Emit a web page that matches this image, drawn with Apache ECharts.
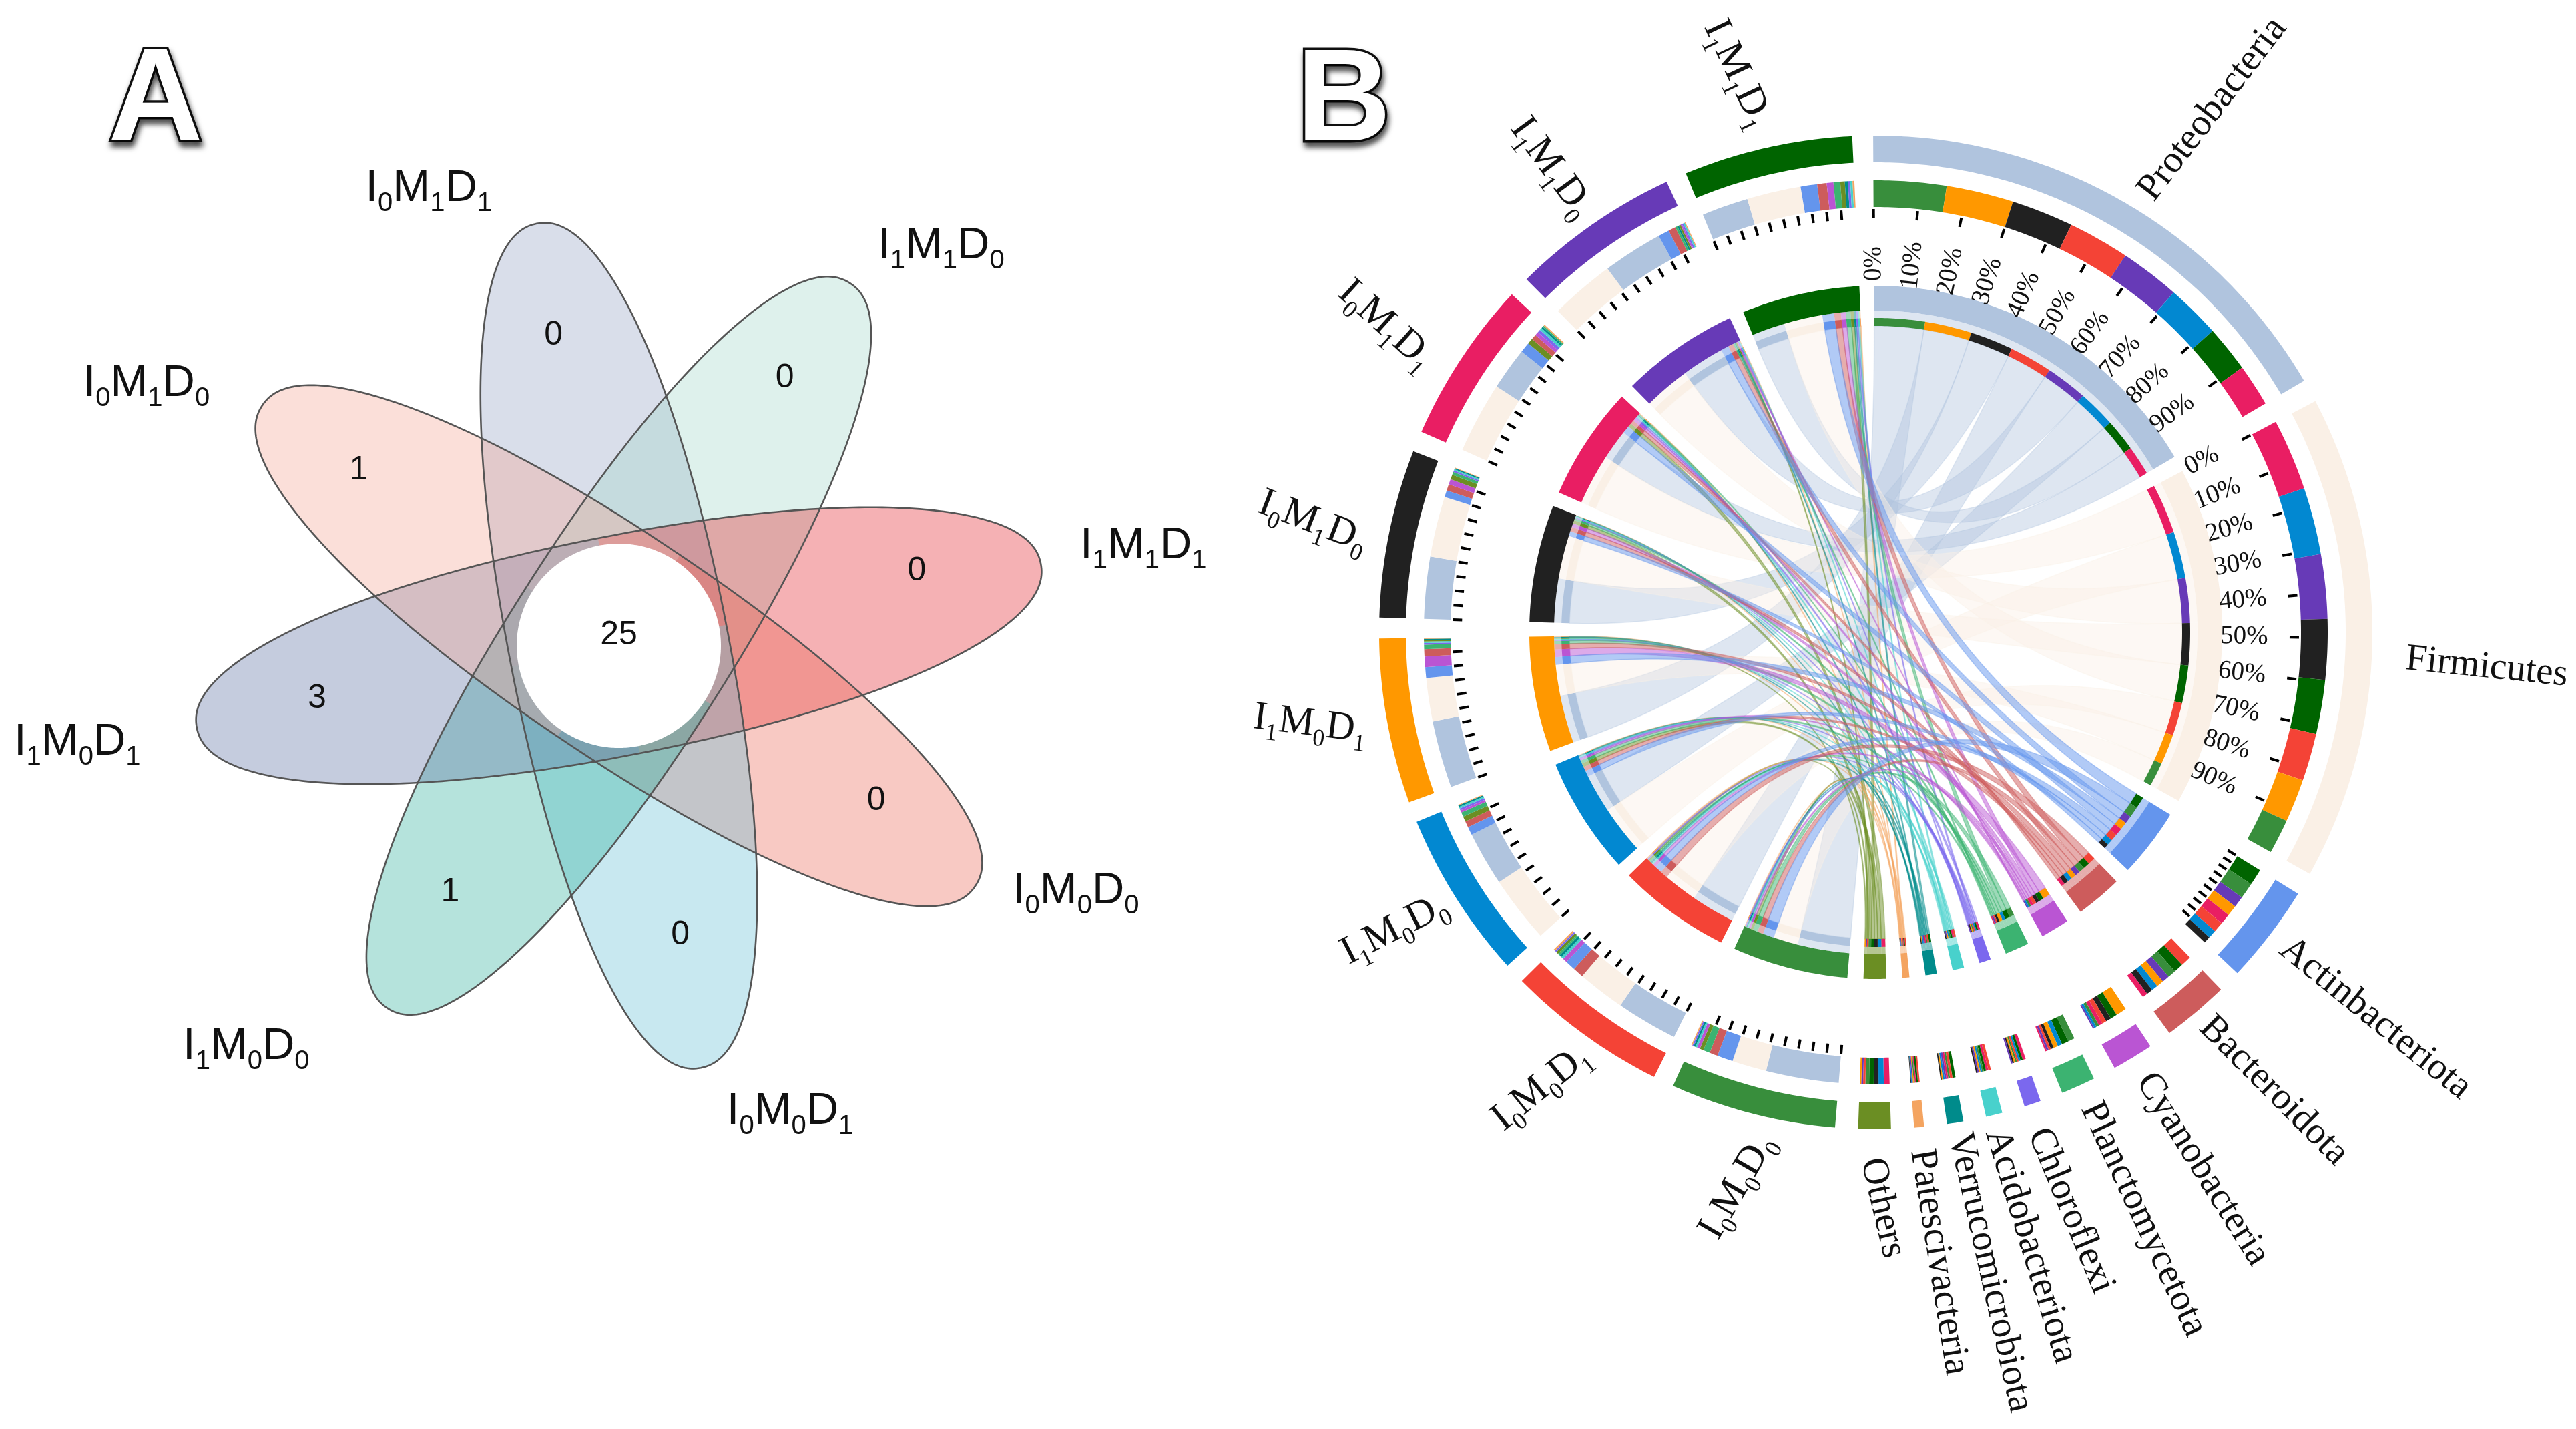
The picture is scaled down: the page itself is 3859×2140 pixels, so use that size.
<!DOCTYPE html>
<html><head><meta charset="utf-8">
<style>html,body{margin:0;padding:0;background:#fff}#c{width:3859px;height:2140px}</style>
<script src="https://cdn.jsdelivr.net/npm/echarts@6/dist/echarts.min.js"></script>
</head><body><div id="c"></div>
<script>
// ---------- Panel A data ----------
const vennNames  = ['I0M1D1','I1M1D0','I1M1D1','I0M0D0','I0M0D1','I1M0D0','I1M0D1','I0M1D0'];
const vennValues = [0,0,0,0,0,1,3,1];
const vennCore   = 25;
const vennLook   = ['#d9deea','#def1ec','#f5b1b4','#f8c9c3','#c8e8f0','#b5e3dc','#c5ccde','#fbdfd9'];
const vennDir    = [349,32.5,79,124,169,212.5,259,304];
const vennValueAngle  = [348.1,31.8,76,121,168,214.4,260,304];
const vennValueRadius = [475,472,460,450,443,447,459,470];
const vennLabelAngle  = [337.4,38.9,79.2,118.2,159.8,222.9,259.9,299];
const vennLabelRadius = [741,769,800,777,743,820,824,809];

// ---------- Panel B data ----------
const phyla = ['Proteobacteria','Firmicutes','Actinbacteriota','Bacteroidota','Cyanobacteria','Planctomycetota','Chloroflexi','Acidobacteriota','Verrucomicrobiota','Patescivacteria','Others'];
const phylaColors = ['#B0C4DE','#FAF0E6','#6495ED','#CD5C5C','#BA55D3','#3CB371','#7B68EE','#48D1CC','#008B8B','#F4A460','#6B8E23'];
const samples = ['I0M0D0','I0M0D1','I1M0D0','I1M0D1','I0M1D0','I0M1D1','I1M1D0','I1M1D1'];
const sampleColors = ['#388E3C','#F44336','#0288D1','#FF9800','#212121','#E91E63','#673AB7','#006400'];
const sI0M0D0 = [48.5,23,10.5,5.5,2,4.5,1,1.2,1.2,0.7,2.5];
const sI0M0D1 = [41,31.7,6.8,7.1,3,1.5,1.2,1.7,1.6,1.2,1.5];
const sI1M0D0 = [36,44.6,5.5,4.2,1.5,3,1.3,1.1,1.1,0.5,3.5];
const sI1M0D1 = [44.8,28.8,7.2,4.8,7.1,3,1,1,0.8,0.6,1];
const sI0M1D0 = [41.3,40.3,4.5,4.2,3.5,2,1,0.9,0.8,0.4,3.2];
const sI0M1D1 = [28.2,47.5,7,3.4,2.5,1,2,1.6,1.2,0.8,3.8];
const sI1M1D0 = [40,43,7.4,4.9,1,1.4,1,1,1.2,0.6,1.2];
const sI1M1D1 = [31,36,11,6.3,4.5,4.5,1.6,1.5,2,1.2,3];
const matrix = [sI0M0D0,sI0M0D1,sI1M0D0,sI1M0D1,sI0M1D0,sI0M1D1,sI1M1D0,sI1M1D1];
const tickLabels = ['0%','10%','20%','30%','40%','50%','60%','70%','80%','90%'];
const proteoLeads = ['I1M1D1'];

// ---------- label placement ----------
const phylaLabelAngle  = [31.8,92.9,127.4,139.8,148.8,155.6,162,166.5,170.6,175,180.5];
const phylaLabelRadius = [768,795,770,764,777,776,783,766,760,777,788];
const phylaLabelDir    = [37.4,95.8,129,135,148,155,157.6,163,167.4,171,167];
const sampleLabelAngle  = [192.3,214.7,237.8,259,280,301,325.2,347.3];
const sampleLabelRadius = [774,764,762,777,775,782,763,778];
const sampleLabelTilt   = [60,39,27,-7,-21,-42,-54,-65];

// ---------- layout constants ----------
const START=-0.3, GAP_PHYLA=2.67, GAP_SAMPLE=2.42;
const R={outer:[704,744],comp:[637,677],tick:[620,634],tickText:552,inner:[482,519],stripe:[459,471],pale:[459,482],link:459};

// sectors
const sum=a=>a.reduce((x,y)=>x+y,0);
const nodes=[];
phyla.forEach((n,j)=>nodes.push({name:n,color:phylaColors[j],kind:'p',idx:j,vals:matrix.map(r=>r[j]),others:sampleColors}));
samples.forEach((n,i)=>nodes.push({name:n,color:sampleColors[i],kind:'s',idx:i,vals:matrix[i],others:phylaColors}));
const total=sum(nodes.map(n=>sum(n.vals)));
const k=(360-phyla.length*GAP_PHYLA-samples.length*GAP_SAMPLE)/total;
let cur=START;
const links={};
nodes.forEach(n=>{
  n.a0=cur; n.span=sum(n.vals)*k; n.a1=cur+n.span; cur=n.a1+(n.kind==='p'?GAP_PHYLA:GAP_SAMPLE);
  n.parts=[];
  const order=n.vals.map((v,i)=>i).sort((x,y)=>n.vals[y]-n.vals[x]);
  if(n.kind==='s'&&proteoLeads.includes(n.name)){order.splice(order.indexOf(0),1);order.unshift(0);}
  let a=n.a0;
  order.forEach(i=>{
    const b=a+n.vals[i]*k;
    n.parts.push({i,a0:a,a1:b,color:n.others[i]});
    const key=n.kind==='p'?(i+'_'+n.idx):(n.idx+'_'+i);
    links[key]=links[key]||{};
    links[key][n.kind]={a0:a,a1:b};
    a=b;
  });
});

// marks
const bands=[], paleBands=[], ticks=[], tickTexts=[], labels=[];
nodes.forEach(n=>{
  bands.push({a0:n.a0,a1:n.a1,r:R.outer,c:n.color});
  bands.push({a0:n.a0,a1:n.a1,r:R.inner,c:n.color});
  n.parts.forEach(p=>{
    bands.push({a0:p.a0,a1:p.a1,r:R.comp,c:p.color});
    bands.push({a0:p.a0,a1:p.a1,r:R.stripe,c:p.color});
  });
  if(n.kind==='s'||n.idx<3){
    tickLabels.forEach((t,q)=>{
      const a=n.a0+n.span*q/10;
      ticks.push({a});
      if(n.kind==='p'&&n.idx<2) tickTexts.push({a,t});
    });
  }
  if(n.kind==='p') labels.push({a:phylaLabelAngle[n.idx],r:phylaLabelRadius[n.idx],rot:90-phylaLabelDir[n.idx],t:n.name,sub:false});
  else labels.push({a:sampleLabelAngle[n.idx],r:sampleLabelRadius[n.idx],rot:sampleLabelTilt[n.idx],t:n.name,sub:true});
});
const ribbonAlpha=j=>j===0?0.42:(j===1?0.45:0.5);
const ribbons=[];
const colOrder=[0,1,10,9,8,7,6,5,4,3,2];
colOrder.forEach(j=>samples.forEach((s,i)=>{
  const l=links[i+'_'+j];
  ribbons.push({a:l.s,b:l.p,c:phylaColors[j],o:ribbonAlpha(j)});
  paleBands.push({a0:l.s.a0,a1:l.s.a1,c:phylaColors[j],o:ribbonAlpha(j)});
  paleBands.push({a0:l.p.a0,a1:l.p.a1,c:phylaColors[j],o:ribbonAlpha(j)});
}));

// helpers
function hexA(hex,o){const n=parseInt(hex.slice(1),16);return `rgba(${n>>16},${(n>>8)&255},${n&255},${o})`;}
function arc(api,r,a0,a1){
  const steps=Math.max(2,Math.ceil(Math.abs(a1-a0)/0.5)),pts=[];
  for(let i=0;i<=steps;i++){const p=api.coord([r,a0+(a1-a0)*i/steps]);pts.push([p[0],p[1]]);}
  return pts;
}
function quad(p0,c,p1,n){
  const out=[];
  for(let i=1;i<n;i++){const t=i/n,u=1-t;out.push([u*u*p0[0]+2*u*t*c[0]+t*t*p1[0],u*u*p0[1]+2*u*t*c[1]+t*t*p1[1]]);}
  return out;
}
function ribbonPts(api,d){
  const c=api.coord([0,0]);
  const A=arc(api,R.link,d.a.a0,d.a.a1),B=arc(api,R.link,d.b.a0,d.b.a1);
  return [...A,...quad(A[A.length-1],c,B[0],48),...B,...quad(B[B.length-1],c,A[0],48)];
}
const idx=a=>a.map((_,i)=>[i]);
const base={type:'custom',coordinateSystem:'polar',silent:true,animation:false,clip:false};
const serifRich=(m,s,drop)=>({
  m:{font:`${m}px "Liberation Serif"`,fill:'#111',lineHeight:m+drop,height:m+drop,verticalAlign:'top'},
  s:{font:`${s}px "Liberation Serif"`,fill:'#111',lineHeight:s,verticalAlign:'bottom'}
});
const sansRich=(m,s,drop)=>({
  m:{font:`${m}px "Liberation Sans"`,fill:'#111',lineHeight:m+drop,height:m+drop,verticalAlign:'top'},
  s:{font:`${s}px "Liberation Sans"`,fill:'#111',lineHeight:s,verticalAlign:'bottom'}
});
const richName=t=>t.match(/[A-Z]\d/g).map(x=>`{m|${x[0]}}{s|${x[1]}}`).join('');

// Panel A rendering
const A_MAJOR=644,A_MINOR=164,A_POWER=2/2.15,CORE=153,A_ALPHA=0.35;
function petalFill(hex){
  const n=parseInt(hex.slice(1),16),f=v=>Math.max(0,Math.min(255,Math.round((v-255*(1-A_ALPHA))/A_ALPHA)));
  return `rgba(${f(n>>16)},${f((n>>8)&255)},${f(n&255)},${A_ALPHA})`;
}
function ellipsePts(api,dir,t0,t1,n){
  const pts=[],sp=v=>Math.sign(v)*Math.pow(Math.abs(v),A_POWER);
  for(let i=0;i<=n;i++){
    const t=(t0+(t1-t0)*i/n)*Math.PI/180,u=A_MAJOR*sp(Math.cos(t)),v=A_MINOR*sp(Math.sin(t));
    const r=Math.hypot(u,v),a=dir+Math.atan2(v,u)*180/Math.PI;
    const p=api.coord([r,a]);pts.push([p[0],p[1]]);
  }
  return pts;
}

const series=[
 {...base,polarIndex:1,z:2,data:idx(vennLook),renderItem(p,api){
   const i=p.dataIndex;
   return {type:'polygon',shape:{points:ellipsePts(api,vennDir[i],-90,90,180)},style:{fill:petalFill(vennLook[i])}};
 }},
 {...base,polarIndex:1,z:3,data:idx([0,1,2,3]),renderItem(p,api){
   const pts=ellipsePts(api,vennDir[p.dataIndex],0,360,360);
   return {type:'polygon',shape:{points:pts},style:{fill:'none',stroke:'#555',lineWidth:2.6}};
 }},
 {...base,polarIndex:1,z:4,data:[[vennCore]],renderItem(p,api){
   const pts=[];for(let a=0;a<360;a+=1){const q=api.coord([CORE,a]);pts.push([q[0],q[1]]);}
   const c=api.coord([16,0]);
   return {type:'group',children:[
     {type:'polygon',shape:{points:pts},style:{fill:'#fff'}},
     {type:'text',x:c[0],y:c[1],style:{text:String(vennCore),font:'50px "Liberation Sans"',fill:'#111',align:'center',verticalAlign:'middle'}}
   ]};
 }},
 {...base,polarIndex:1,z:5,data:vennValues.map(v=>[v]),renderItem(p,api){
   const i=p.dataIndex,c=api.coord([vennValueRadius[i],vennValueAngle[i]]);
   return {type:'text',x:c[0],y:c[1],style:{text:String(vennValues[i]),font:'50px "Liberation Sans"',fill:'#111',align:'center',verticalAlign:'middle'}};
 }},
 {...base,polarIndex:1,z:5,data:idx(vennNames),renderItem(p,api){
   const i=p.dataIndex,c=api.coord([vennLabelRadius[i],vennLabelAngle[i]]);
   return {type:'text',x:c[0],y:c[1],style:{text:richName(vennNames[i]),rich:sansRich(67,40,18),align:'center',verticalAlign:'middle'}};
 }},
 {...base,polarIndex:0,z:2,data:idx(ribbons),renderItem(p,api){
   const d=ribbons[p.dataIndex];
   return {type:'polygon',shape:{points:ribbonPts(api,d)},style:{fill:hexA(d.c,d.o),stroke:hexA(d.c,d.o*0.8),lineWidth:1.5}};
 }},
 {...base,polarIndex:0,z:3,data:idx(paleBands),renderItem(p,api){
   const d=paleBands[p.dataIndex];
   return {type:'polygon',shape:{points:[...arc(api,R.pale[1],d.a0,d.a1),...arc(api,R.pale[0],d.a1,d.a0)]},style:{fill:hexA(d.c,d.o)}};
 }},
 {...base,polarIndex:0,z:4,data:idx(bands),renderItem(p,api){
   const d=bands[p.dataIndex];
   return {type:'polygon',shape:{points:[...arc(api,d.r[1],d.a0,d.a1),...arc(api,d.r[0],d.a1,d.a0)]},style:{fill:d.c}};
 }},
 {...base,polarIndex:0,z:5,data:idx(ticks),renderItem(p,api){
   const d=ticks[p.dataIndex],a=api.coord([R.tick[0],d.a]),b=api.coord([R.tick[1],d.a]);
   return {type:'line',shape:{x1:a[0],y1:a[1],x2:b[0],y2:b[1]},style:{stroke:'#000',lineWidth:4}};
 }},
 {...base,polarIndex:0,z:5,data:idx(tickTexts),renderItem(p,api){
   const d=tickTexts[p.dataIndex],c=api.coord([R.tickText,d.a]);
   return {type:'text',x:c[0],y:c[1],rotation:(90-d.a)*Math.PI/180,style:{text:d.t,font:'39px "Liberation Serif"',fill:'#111',align:'center',verticalAlign:'middle'}};
 }},
 {...base,polarIndex:0,z:5,data:idx(labels),renderItem(p,api){
   const d=labels[p.dataIndex],c=api.coord([d.r,d.a]);
   const style=d.sub?{text:richName(d.t),rich:serifRich(60,36,17),align:'right',verticalAlign:'middle'}
     :{text:d.t,font:'57px "Liberation Serif"',fill:'#111',align:'left',verticalAlign:'middle'};
   return {type:'text',x:c[0],y:c[1],rotation:d.rot*Math.PI/180,style};
 }}
];

const letterStyle={fontFamily:'"Liberation Sans"',fontWeight:'bold',fontSize:196,fill:'#fff',stroke:'#111',lineWidth:7,textShadowBlur:9,textShadowColor:'rgba(0,0,0,0.65)',textShadowOffsetX:2,textShadowOffsetY:7,align:'center',verticalAlign:'middle'};
const chart=echarts.init(document.getElementById('c'),null,{renderer:'canvas'});
chart.setOption({
  animation:false,backgroundColor:'#fff',
  polar:[{center:[2810,947],radius:744},{center:[927,967],radius:644}],
  angleAxis:[
    {polarIndex:0,type:'value',min:0,max:360,startAngle:90,clockwise:true,show:false},
    {polarIndex:1,type:'value',min:0,max:360,startAngle:90,clockwise:true,show:false}],
  radiusAxis:[
    {polarIndex:0,type:'value',min:0,max:744,show:false},
    {polarIndex:1,type:'value',min:0,max:644,show:false}],
  graphic:[
    {type:'text',x:233,y:156,z:10,style:{text:'A',...letterStyle}},
    {type:'text',x:2013,y:156,z:10,style:{text:'B',...letterStyle}}
  ],
  series
});
</script></body></html>
